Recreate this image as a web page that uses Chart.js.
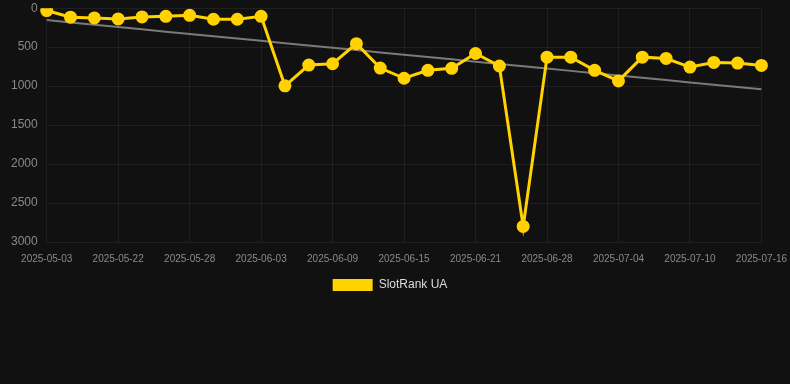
<!DOCTYPE html>
<html>
<head>
<meta charset="utf-8">
<script src="https://cdn.jsdelivr.net/npm/chart.js@4"></script>
<style>
  html, body { margin: 0; padding: 0; background: #111111; overflow: hidden; }
  #wrap { width: 798px; height: 309px; position: relative; margin-top: -8px; }
</style>
</head>
<body>
<div id="wrap"><canvas id="chart-rank"></canvas></div>
<script>
const dates = [
  "2025-05-03", "2025-05-18", "2025-05-20", "2025-05-22", "2025-05-24", "2025-05-26",
  "2025-05-28", "2025-05-30", "2025-06-01", "2025-06-03", "2025-06-05", "2025-06-07",
  "2025-06-09", "2025-06-11", "2025-06-13", "2025-06-15", "2025-06-17", "2025-06-19",
  "2025-06-21", "2025-06-23", "2025-06-25", "2025-06-28", "2025-06-30", "2025-07-02",
  "2025-07-04", "2025-07-06", "2025-07-08", "2025-07-10", "2025-07-12", "2025-07-14",
  "2025-07-16"
];
const rankUA = [
  30, 115, 125, 137, 112, 104, 91, 142, 142, 104,
  996, 730, 713, 455, 768, 899, 797, 772, 581, 742,
  2800, 628, 628, 797, 933, 628, 645, 755, 696, 704, 734
];
const yTicks = [0, 500, 1000, 1500, 2000, 2500, 3000];

// least squares trend through the rank values
function trendOf(values) {
  const n = values.length;
  let sx = 0, sy = 0, sxy = 0, sxx = 0;
  values.forEach((v, i) => { sx += i; sy += v; sxy += i * v; sxx += i * i; });
  const slope = (n * sxy - sx * sy) / (n * sxx - sx * sx);
  const icpt = (sy - slope * sx) / n;
  return values.map((v, i) => icpt + slope * i);
}

const ctx = document.getElementById("chart-rank").getContext("2d");
new Chart(ctx, {
  plugins: [
    {
      beforeInit(chart) {
        // legend sits a bit left of centre in the original
        const originalDraw = chart.legend.draw;
        chart.legend.draw = function draw() {
          this.ctx.save();
          this.ctx.translate(-10, 0);
          originalDraw.apply(this, arguments);
          this.ctx.restore();
        };
      },
    },
  ],
  type: "line",
  data: {
    labels: dates,
    datasets: [
      {
        label: "SlotRank UA",
        data: rankUA,
        borderColor: "#ffd200",
        backgroundColor: "#ffd200",
        pointBackgroundColor: "#ffd200",
        pointBorderColor: "#ffd200",
        borderWidth: 3,
        pointRadius: 5,
        tension: 0,
        order: 1,
      },
      {
        label: "trend",
        data: trendOf(rankUA),
        borderColor: "#7a7a7a",
        borderWidth: 2,
        pointRadius: 0,
        tension: 0,
        order: 2,
      },
    ],
  },
  options: {
    responsive: true,
    maintainAspectRatio: false,
    animation: false,
    layout: { padding: { left: 2 } },
    plugins: {
      legend: {
        display: true,
        position: "bottom",
        labels: {
          color: "#dddddd",
          boxWidth: 40,
          boxHeight: 12,
          padding: 3,
          font: { size: 12, family: "Liberation Sans" },
          filter: (item) => item.text !== "trend",
          generateLabels: (chart) =>
            Chart.defaults.plugins.legend.labels.generateLabels(chart).map((item) => {
              item.lineWidth = 0;
              return item;
            }),
        },
      },
      tooltip: { enabled: false },
    },
    scales: {
      y: {
        reverse: true,
        min: 0,
        max: 3000,
        afterBuildTicks: (axis) => { axis.ticks = yTicks.map((v) => ({ value: v })); },
        grid: { color: "rgba(255,255,255,0.06)", drawTicks: false },
        border: { display: false },
        ticks: {
          color: "#8a8a8a",
          padding: 9,
          callback: (value) => String(value),
          font: { size: 12, family: "Liberation Sans" },
        },
      },
      x: {
        grid: { color: "rgba(255,255,255,0.06)", drawTicks: false },
        border: { display: false },
        ticks: {
          color: "#8a8a8a",
          padding: 11,
          maxRotation: 0,
          autoSkip: true,
          font: { size: 10, family: "Liberation Sans" },
        },
      },
    },
  },
});
</script>
</body>
</html>
